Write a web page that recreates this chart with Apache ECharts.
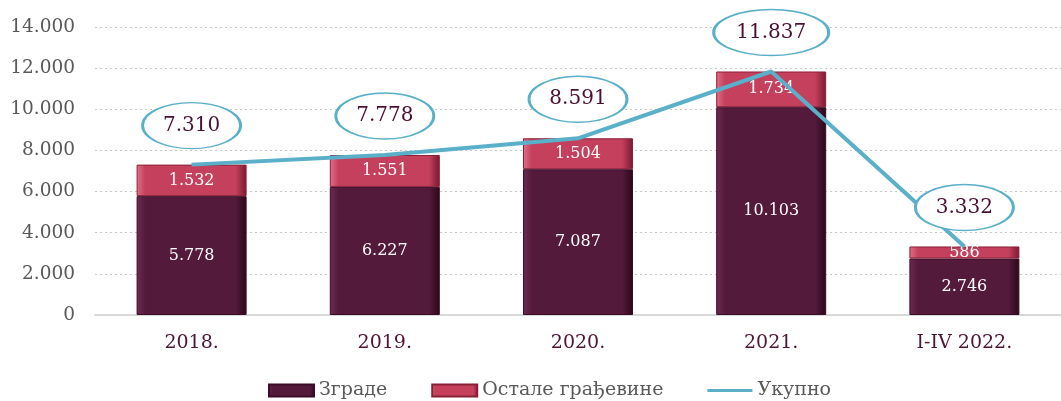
<!DOCTYPE html>
<html>
<head>
<meta charset="utf-8">
<script src="https://cdn.jsdelivr.net/npm/echarts@6/dist/echarts.min.js"></script>
<style>
  html, body { margin: 0; padding: 0; background: #fff; }
  #chart { width: 1061px; height: 401px; }
</style>
</head>
<body>
<div id="chart"></div>
<script>
var categories = ['2018.', '2019.', '2020.', '2021.', 'I-IV 2022.'];
var zgrade = [5778, 6227, 7087, 10103, 2746];
var ostale = [1532, 1551, 1504, 1734, 586];
var ukupno = [7310, 7778, 8591, 11837, 3332];

var FONT = 'DejaVu Serif';

function fmt(v) {
  return String(v).replace(/\B(?=(\d{3})+(?!\d))/g, '.');
}

function bevel(light, mid, dark) {
  return new echarts.graphic.LinearGradient(0, 0, 1, 0, [
    { offset: 0, color: light },
    { offset: 0.08, color: mid },
    { offset: 0.9, color: mid },
    { offset: 1, color: dark }
  ]);
}

var chart = echarts.init(document.getElementById('chart'));

var option = {
  backgroundColor: '#fff',
  animation: false,
  grid: { left: 95, top: 27, width: 981, height: 288, containLabel: false },
  legend: {
    bottom: -4,
    left: 263,
    itemGap: 44,
    itemWidth: 45,
    itemHeight: 12,
    textStyle: { fontFamily: FONT, fontSize: 19, color: '#595959' },
    data: [
      { name: 'Зграде', icon: 'rect' },
      { name: 'Остале грађевине', icon: 'rect' },
      { name: 'Укупно', icon: 'path://M0,5 L45,5 L45,8 L0,8 Z' }
    ]
  },
  xAxis: {
    type: 'category',
    data: categories,
    axisLine: { lineStyle: { color: '#d9d9d9', width: 2 } },
    axisTick: { show: false },
    axisLabel: { fontFamily: FONT, fontSize: 19, color: '#4d1535', margin: 19 }
  },
  yAxis: {
    type: 'value',
    min: 0,
    max: 14000,
    interval: 2000,
    axisLine: { show: false },
    axisTick: { show: false },
    axisLabel: { fontFamily: FONT, fontSize: 18.5, color: '#595959', margin: 20, formatter: fmt },
    splitLine: { lineStyle: { color: '#c8c8c8', type: [2, 3], width: 1 } }
  },
  series: [
    {
      name: 'Зграде',
      type: 'bar',
      stack: 'a',
      barWidth: 110,
      data: zgrade,
      itemStyle: {
        color: bevel('#6e2a52', '#541a3c', '#2a0818'),
        borderColor: '#3a0c26',
        borderWidth: 1
      },
      label: {
        show: true, position: 'inside', formatter: function (p) { return fmt(p.value); },
        color: '#fff', fontFamily: FONT, fontSize: 16
      }
    },
    {
      name: 'Остале грађевине',
      type: 'bar',
      stack: 'a',
      barWidth: 110,
      data: ostale,
      itemStyle: {
        color: bevel('#e07088', '#c4405c', '#7a1830'),
        borderColor: '#8a2038',
        borderWidth: 1
      },
      label: {
        show: true, position: 'inside', formatter: function (p) { return fmt(p.value); },
        color: '#fff', fontFamily: FONT, fontSize: 16
      }
    },
    {
      name: 'Укупно',
      type: 'line',
      data: ukupno,
      z: 5,
      symbol: 'none',
      lineStyle: { color: '#5aafc9', width: 4 },
      itemStyle: { color: '#5aafc9' }
    },
    {
      name: 'labels',
      type: 'scatter',
      data: ukupno.map(function (v) {
        return { value: v, symbolSize: v >= 10000 ? [115, 46] : [98, 46] };
      }),
      z: 6,
      symbol: 'circle',
      symbolOffset: [0, -39],
      itemStyle: { color: '#fff', borderColor: '#5aafc9', borderWidth: 2, opacity: 1 },
      label: {
        show: true, position: 'inside',
        formatter: function (p) { return fmt(p.value); },
        color: '#4a0f33', fontFamily: FONT, fontSize: 20
      },
      emphasis: { disabled: true }
    }
  ]
};

chart.setOption(option);
</script>
</body>
</html>
